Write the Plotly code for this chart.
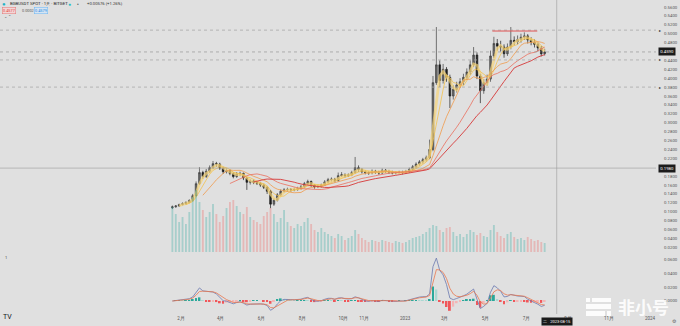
import pandas as pd
import plotly.graph_objects as go

# ---------------- data ----------------
FIRST_DATE = "2022-01-19"
LAST_DATE = "2023-07-28"

OPEN = [0.109,0.111,0.113,0.116,0.118,0.121,0.125,0.136,0.163,0.188,
        0.179,0.191,0.199,0.208,0.207,0.198,0.190,0.192,0.186,0.179,
        0.185,0.186,0.176,0.166,0.169,0.166,0.164,0.160,0.155,0.146,
        0.117,0.126,0.138,0.146,0.149,0.150,0.149,0.150,0.152,0.156,
        0.163,0.168,0.160,0.156,0.157,0.160,0.167,0.172,0.173,0.170,
        0.181,0.183,0.181,0.183,0.188,0.199,0.195,0.190,0.188,0.187,
        0.191,0.189,0.187,0.193,0.191,0.189,0.187,0.188,0.189,0.188,
        0.190,0.195,0.201,0.207,0.212,0.217,0.221,0.240,0.390,0.430,
        0.395,0.420,0.402,0.360,0.375,0.385,0.392,0.402,0.414,0.430,
        0.452,0.405,0.372,0.390,0.398,0.450,0.478,0.472,0.470,0.455,
        0.470,0.485,0.482,0.487,0.492,0.495,0.486,0.481,0.476,0.468,
        0.455]
HIGH = [0.114,0.115,0.118,0.121,0.123,0.128,0.140,0.168,0.200,0.192,
        0.196,0.204,0.214,0.212,0.210,0.201,0.197,0.195,0.189,0.189,
        0.190,0.188,0.178,0.173,0.172,0.169,0.167,0.163,0.158,0.149,
        0.130,0.142,0.150,0.153,0.154,0.153,0.154,0.156,0.160,0.167,
        0.172,0.170,0.162,0.161,0.163,0.171,0.176,0.177,0.176,0.188,
        0.189,0.186,0.186,0.192,0.223,0.204,0.198,0.193,0.191,0.195,
        0.194,0.192,0.197,0.196,0.194,0.192,0.191,0.192,0.192,0.194,
        0.199,0.205,0.211,0.216,0.221,0.226,0.262,0.405,0.515,0.440,
        0.432,0.425,0.408,0.384,0.392,0.400,0.410,0.422,0.440,0.470,
        0.458,0.410,0.398,0.408,0.462,0.493,0.488,0.484,0.476,0.478,
        0.515,0.494,0.496,0.500,0.503,0.499,0.492,0.487,0.480,0.472,
        0.466]
LOW = [0.106,0.109,0.111,0.114,0.116,0.119,0.123,0.134,0.160,0.174,
       0.176,0.187,0.196,0.201,0.194,0.185,0.186,0.182,0.175,0.176,
       0.180,0.171,0.149,0.161,0.162,0.160,0.156,0.151,0.140,0.108,
       0.113,0.123,0.135,0.143,0.146,0.145,0.146,0.147,0.149,0.153,
       0.160,0.156,0.152,0.153,0.154,0.158,0.164,0.168,0.166,0.168,
       0.178,0.177,0.178,0.180,0.186,0.190,0.186,0.184,0.183,0.184,
       0.185,0.183,0.185,0.187,0.185,0.184,0.184,0.185,0.184,0.185,
       0.187,0.192,0.198,0.203,0.208,0.213,0.218,0.236,0.385,0.380,
       0.388,0.392,0.333,0.352,0.368,0.378,0.385,0.396,0.408,0.425,
       0.398,0.344,0.365,0.383,0.392,0.445,0.462,0.460,0.446,0.450,
       0.465,0.474,0.476,0.480,0.486,0.478,0.474,0.469,0.460,0.449,
       0.451]
CLOSE = [0.111,0.113,0.116,0.118,0.121,0.125,0.136,0.163,0.188,0.179,
         0.191,0.199,0.208,0.207,0.198,0.190,0.192,0.186,0.179,0.185,
         0.186,0.176,0.166,0.169,0.166,0.164,0.160,0.155,0.146,0.117,
         0.126,0.138,0.146,0.149,0.150,0.149,0.150,0.152,0.156,0.163,
         0.168,0.160,0.156,0.157,0.160,0.167,0.172,0.173,0.170,0.181,
         0.183,0.181,0.183,0.188,0.199,0.195,0.190,0.188,0.187,0.191,
         0.189,0.187,0.193,0.191,0.189,0.187,0.188,0.189,0.188,0.190,
         0.195,0.201,0.207,0.212,0.217,0.221,0.240,0.390,0.430,0.395,
         0.420,0.402,0.360,0.375,0.385,0.392,0.402,0.414,0.430,0.452,
         0.405,0.372,0.390,0.398,0.450,0.478,0.472,0.470,0.455,0.470,
         0.485,0.482,0.487,0.492,0.495,0.486,0.481,0.476,0.468,0.455,
         0.459]
VOLUME = [45,38,30,35,28,40,55,62, 50,42,35,40,48,38,30,36,
          44,50,52,46,40,38,45,35, 32,30,28,36,40,44,38,30,
          34,42,30,26,24,28,26,30, 34,28,22,20,24,20,18,16,
          14,18,16,12,14,16,22,18, 14,12,10,12,11,10,12,11,
          10,9,11,10,9,10,12,14, 15,16,18,20,24,27,26,22,
          20,24,25,20,16,18,15,18, 22,20,17,19,16,15,22,27,
          20,16,14,18,20,15,13,14, 12,15,13,11,12,10,9]

MA_PERIODS = [3, 5, 10, 18, 25]
MA_COLORS = ["rgba(246,212,120,0.7)", "#f2c14e", "#f09b4b", "#ea6f5d", "#d63838"]
MA_WIDTHS = [2.8, 0.8, 0.8, 0.8, 0.9]

X_TICK_DATES = ["2022-02-01", "2022-04-01", "2022-06-01", "2022-08-01", "2022-10-01",
                "2022-11-01", "2023-01-01", "2023-03-01", "2023-05-01", "2023-07-01",
                "2023-09-01", "2023-11-01", "2024-01-01"]
X_TICK_TEXT = ["2月", "4月", "6月", "8月", "10月", "11月", "2023", "3月", "5月", "7月",
               "9月", "11月", "2024"]
PRICE_TICKS = [0.56, 0.54, 0.52, 0.50, 0.48, 0.44, 0.42, 0.40, 0.38, 0.36, 0.34, 0.32,
               0.30, 0.28, 0.26, 0.24, 0.22, 0.18, 0.16, 0.14, 0.12, 0.10, 0.08, 0.06,
               0.04, 0.02]
MACD_TICKS = [0, 0.02, 0.04, 0.06]

LEVELS = [0.508, 0.441, 0.380]              # user drawn dotted levels
RESIST_Y = 0.506                            # red drawn trend segment
RESIST_X = ["2023-05-11", "2023-07-17"]
CROSS_DATE = "2023-08-15"
CROSS_PRICE = 0.198
X_RANGE = ["2021-05-07", "2024-01-10"]

# ---------------- derived ----------------
dates = pd.date_range(FIRST_DATE, LAST_DATE, periods=len(CLOSE))
close = pd.Series(CLOSE)
fast = close.ewm(span=2.4, adjust=False).mean()
slow = close.ewm(span=5.2, adjust=False).mean()
macd = fast - slow
signal = macd.ewm(span=3, adjust=False).mean()
hist = macd - signal

hist_colors = []
prev = 0.0
for h in hist:
    if h >= 0:
        hist_colors.append("#2aa89a" if h >= prev else "#a9d8d2")
    else:
        hist_colors.append("#f4b5b5" if h > prev else "#f0575a")
    prev = h
vol_colors = ["rgba(38,166,154,0.30)" if c >= o else "rgba(239,83,80,0.28)"
              for o, c in zip(OPEN, CLOSE)]

W, H = 680, 326
ML, MR, MT, MB = 0, 24, 0, 12
PW, PH = W - ML - MR, H - MT - MB
def px(x): return (x - ML) / PW
def py(y): return 1 - (y - MT) / PH
SPLIT = py(252)

FONT = "Roboto"
fig = go.Figure()

# volume (overlay)
fig.add_trace(go.Bar(x=dates, y=VOLUME, marker=dict(color=vol_colors, line=dict(width=0)),
                     yaxis="y3", hoverinfo="skip"))
# moving averages
for p, col, w in zip(MA_PERIODS, MA_COLORS, MA_WIDTHS):
    fig.add_trace(go.Scatter(x=dates, y=close.rolling(p).mean(), mode="lines",
                             line=dict(color=col, width=w), hoverinfo="skip"))
# candles
fig.add_trace(go.Candlestick(x=dates, open=OPEN, high=HIGH, low=LOW, close=CLOSE,
                             increasing=dict(line=dict(color="#404040", width=0.7), fillcolor="#6a6a6a"),
                             decreasing=dict(line=dict(color="#1e1e1e", width=0.7), fillcolor="#1e1e1e"),
                             whiskerwidth=0))
# MACD
fig.add_trace(go.Bar(x=dates, y=hist, marker=dict(color=hist_colors, line=dict(width=0)),
                     yaxis="y2", hoverinfo="skip"))
fig.add_trace(go.Scatter(x=dates, y=macd, mode="lines", line=dict(color="#6b78b0", width=0.8),
                         yaxis="y2", hoverinfo="skip"))
fig.add_trace(go.Scatter(x=dates, y=signal, mode="lines", line=dict(color="#e8774f", width=0.8),
                         yaxis="y2", hoverinfo="skip"))

BG = "#e0e0e0"
fig.update_layout(
    width=W, height=H, margin=dict(l=ML, r=MR, t=MT, b=MB),
    paper_bgcolor=BG, plot_bgcolor=BG, showlegend=False,
    barmode="overlay", bargap=0.45,
    font=dict(family=FONT, size=4.5, color="#555"),
    xaxis=dict(type="date", range=X_RANGE, anchor="y2", domain=[0, 1],
               tickvals=X_TICK_DATES, ticktext=X_TICK_TEXT, ticks="", showgrid=False,
               showline=False, zeroline=False, rangeslider=dict(visible=False),
               tickfont=dict(size=4.5, color="#555")),
    yaxis=dict(domain=[SPLIT, 1], range=[0.0095, 0.5757], side="right", anchor="x",
               tickvals=PRICE_TICKS, tickformat=".4f", showgrid=False, zeroline=False,
               ticks="", ticklabelstandoff=7, tickfont=dict(size=4.3, color="#555")),
    yaxis3=dict(overlaying="y", range=[0, 252], visible=False),
    yaxis2=dict(domain=[0, SPLIT], range=[-0.0186, 0.07], side="right", anchor="x",
                tickvals=MACD_TICKS, tickformat=".4f", showgrid=False,
                zeroline=False, ticks="", ticklabelstandoff=7,
                tickfont=dict(size=4.3, color="#555")),
)

shapes = []
for lv in LEVELS:
    shapes.append(dict(type="line", xref="paper", yref="y", x0=0, x1=1, y0=lv, y1=lv,
                       line=dict(color="#a8a8a8", width=0.8, dash="dot")))
shapes.append(dict(type="line", xref="paper", yref="y", x0=0, x1=1, y0=CLOSE[-1], y1=CLOSE[-1],
                   line=dict(color="#8c8c8c", width=0.6, dash="dot")))
shapes.append(dict(type="line", xref="paper", yref="y", x0=0, x1=1, y0=CROSS_PRICE, y1=CROSS_PRICE,
                   line=dict(color="#9a9a9a", width=0.6)))
shapes.append(dict(type="line", xref="x", yref="paper", x0=CROSS_DATE, x1=CROSS_DATE, y0=0, y1=1,
                   line=dict(color="#9a9a9a", width=0.6)))
shapes.append(dict(type="line", xref="x", yref="y", x0=RESIST_X[0], x1=RESIST_X[1],
                   y0=RESIST_Y, y1=RESIST_Y, line=dict(color="#e05454", width=1)))
# watermark logo bars
WM = "rgba(255,255,255,0.9)"
for (x0, y0, x1, y1) in [(586, 298, 590, 302), (592, 298, 611, 302),
                         (586, 304, 611, 309), (586, 311, 605, 316), (607, 311, 611, 316)]:
    shapes.append(dict(type="rect", xref="paper", yref="paper", x0=px(x0), x1=px(x1),
                       y0=py(y1), y1=py(y0), fillcolor=WM, line=dict(width=0)))
fig.update_layout(shapes=shapes)

ann = []
def txt(x, y, t, size=4.3, color="#333", anchor="left", **kw):
    ann.append(dict(x=px(x), y=py(y), xref="paper", yref="paper", text=t, showarrow=False,
                    xanchor=anchor, yanchor="middle", font=dict(size=size, color=color, family=FONT), **kw))

txt(4, 4, "●", 6, "#1fb3c6", "center")
txt(8, 4, "BGBUSDT SPOT · 1天 · BITGET", 4.3, "#222")
txt(69, 4, "●", 5, "#26c0c6", "center")
txt(78, 4, "●", 3, "#444", "center")
txt(85, 4, "+0.00576 (+1.26%)", 4.2, "#333")
txt(2, 10.5, "0.4577", 3.8, "#e53935", bgcolor="#f2d6d6", bordercolor="#e57373", borderwidth=0.5, borderpad=0.6)
txt(20, 10.5, "0.0002", 3.8, "#555")
txt(34, 10.5, "0.4579", 3.8, "#1e88e5", bgcolor="#d6e4f2", bordercolor="#64b5f6", borderwidth=0.5, borderpad=0.6)
txt(2, 17, "⌄ ⌃", 3.8, "#555")
txt(3, 257, "1", 4, "#444")
txt(7, 317, "TV", 7, "#131722", "center")
txt(674, 321, "⚙", 4.5, "#666", "center")

# right axis markers / boxes
for lv in LEVELS:
    ann.append(dict(x=px(660), y=lv, xref="paper", yref="y", text="▸", showarrow=False,
                    xanchor="center", yanchor="middle", font=dict(size=4, color="#222")))
for val in [CLOSE[-1], CROSS_PRICE]:
    ann.append(dict(x=px(658), y=val, xref="paper", yref="y", text=f"{val:.4f}", showarrow=False,
                    xanchor="left", yanchor="middle", bgcolor="#1b1b1b", borderpad=1.2,
                    font=dict(size=4.3, color="white", family=FONT)))
ann.append(dict(x=CROSS_DATE, y=py(321), xref="x", yref="paper", text="二   2023-08-15",
                showarrow=False, xanchor="center", yanchor="middle", bgcolor="#1b1b1b",
                borderpad=1.2, font=dict(size=4, color="white", family=FONT)))
# watermark text
ann.append(dict(x=px(643), y=py(306), xref="paper", yref="paper", text="<b>非小号</b>",
                showarrow=False, xanchor="center", yanchor="middle",
                font=dict(size=17, color=WM, family="Noto Sans CJK SC")))
fig.update_layout(annotations=ann)

fig.write_html("out.html")
